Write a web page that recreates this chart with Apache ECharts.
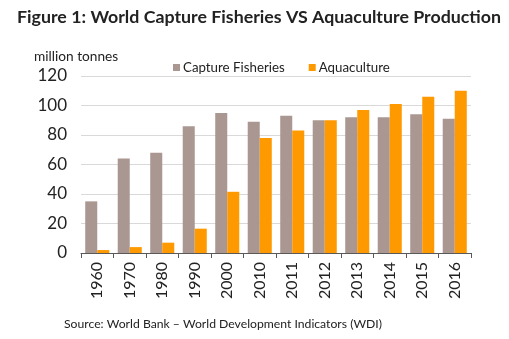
<!DOCTYPE html>
<html>
<head>
<meta charset="utf-8">
<script src="https://cdn.jsdelivr.net/npm/echarts@6/dist/echarts.min.js"></script>
<style>
  html, body { margin: 0; padding: 0; background: #fff; }
  #chart { width: 509px; height: 339px; }
</style>
</head>
<body>
<div id="chart"></div>
<script>
// Years on the category axis
const years = ['1960', '1970', '1980', '1990', '2000', '2010', '2011', '2012', '2013', '2014', '2015', '2016'];
// Production, million tonnes
const captureFisheries = [35, 64, 68, 86, 95, 89, 93, 90, 92, 92, 94, 91];
const aquaculture = [2, 4, 7, 16.5, 41.5, 78, 83, 90, 97, 101, 106, 110];
const yTicks = { min: 0, max: 120, interval: 20 };

const font = 'Lato, "Open Sans", sans-serif';
const chart = echarts.init(document.getElementById('chart'), null, { renderer: 'canvas' });

chart.setOption({
  animation: false,
  textStyle: { fontFamily: font },
  title: [
    {
      text: 'Figure 1: World Capture Fisheries VS Aquaculture Production',
      left: 17, top: 8, padding: 0,
      textStyle: { fontFamily: font, fontWeight: 'bold', fontSize: 17.8, color: '#222' }
    },
    {
      text: 'Source: World Bank \u2013 World Development Indicators (WDI)',
      left: 64, top: 318, padding: 0,
      textStyle: { fontFamily: font, fontWeight: 'normal', fontSize: 12.2, color: '#222' }
    },
    {
      text: 'million tonnes',
      left: 34, top: 50, padding: 0,
      textStyle: { fontFamily: font, fontWeight: 'normal', fontSize: 13.7, color: '#222' }
    }
  ],
  legend: {
    top: 61, left: 173, padding: 0,
    itemWidth: 7, itemHeight: 7, itemGap: 24,
    icon: 'rect',
    textStyle: { fontFamily: font, fontSize: 13.3, color: '#222', padding: [0, 0, 0, -2] },
    data: ['Capture Fisheries', 'Aquaculture']
  },
  grid: { left: 81, right: 38, top: 76, bottom: 86 },
  xAxis: {
    type: 'category',
    data: years,
    axisLine: { lineStyle: { color: '#595959', width: 1 } },
    axisTick: { show: true, alignWithLabel: false, length: 5, lineStyle: { color: '#595959' } },
    axisLabel: { rotate: 90, fontFamily: font, fontSize: 16, color: '#222', margin: 9 }
  },
  yAxis: {
    type: 'value',
    min: yTicks.min, max: yTicks.max, interval: yTicks.interval,
    axisLine: { show: false },
    axisTick: { show: false },
    axisLabel: { fontFamily: font, fontSize: 17, color: '#222', margin: 14 },
    splitLine: { lineStyle: { color: '#d9d9d9', width: 1 } }
  },
  series: [
    {
      name: 'Capture Fisheries', type: 'bar', data: captureFisheries,
      itemStyle: { color: '#AA9792' },
      barGap: '0%', barCategoryGap: '26%'
    },
    {
      name: 'Aquaculture', type: 'bar', data: aquaculture,
      itemStyle: { color: '#FF9900' },
      barGap: '0%', barCategoryGap: '26%'
    }
  ]
});
</script>
</body>
</html>
